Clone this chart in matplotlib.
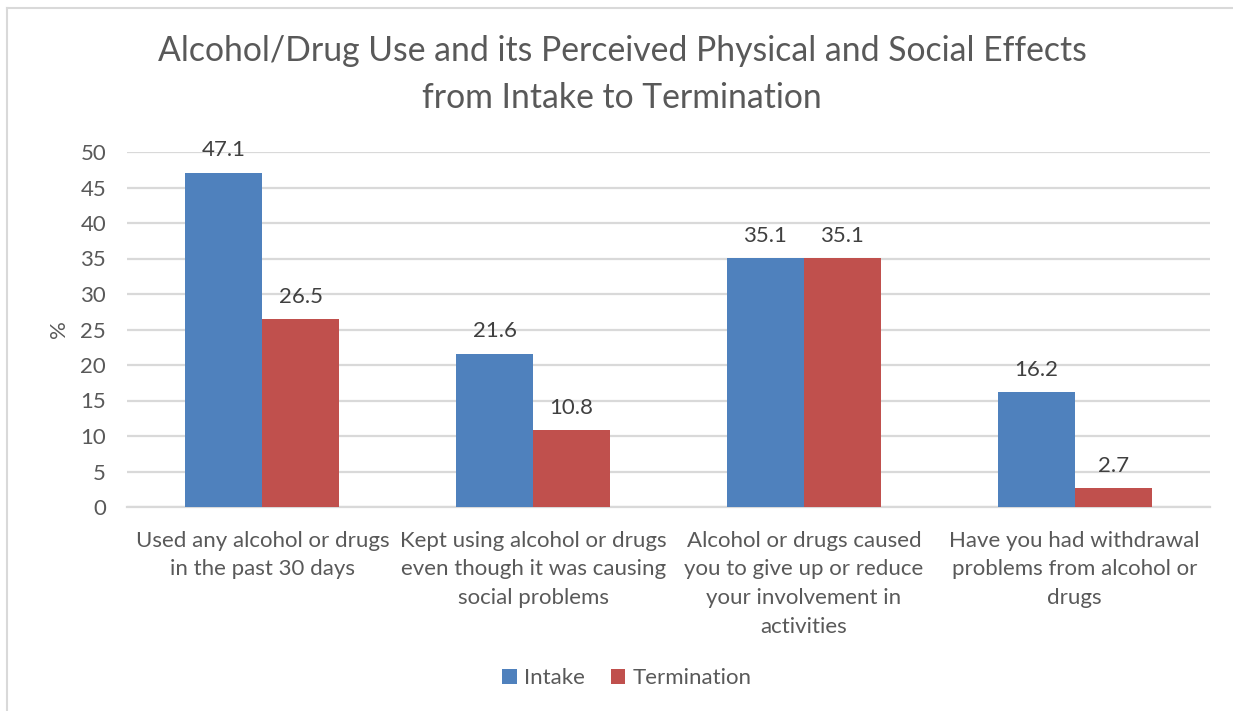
import matplotlib
matplotlib.use("Agg")
import matplotlib.pyplot as plt
from matplotlib.lines import Line2D
from matplotlib.patches import Patch
import numpy as np

plt.rcParams['font.family'] = ['Lato', 'DejaVu Sans']

categories = [
    "Used any alcohol or drugs\nin the past 30 days",
    "Kept using alcohol or drugs\neven though it was causing\nsocial problems",
    "Alcohol or drugs caused\nyou to give up or reduce\nyour involvement in\nactivities",
    "Have you had withdrawal\nproblems from alcohol or\ndrugs",
]
intake = [47.1, 21.6, 35.1, 16.2]
termination = [26.5, 10.8, 35.1, 2.7]
series_names = ["Intake", "Termination"]
y_ticks = [0, 5, 10, 15, 20, 25, 30, 35, 40, 45, 50]

title = "Alcohol/Drug Use and its Perceived Physical and Social Effects\nfrom Intake to Termination"

BLUE = "#4F81BD"
RED = "#C0504D"
TEXT = "#595959"
GRID = "#D9D9D9"
FS = 16

W, H = 1233, 711
fig = plt.figure(figsize=(W / 100, H / 100), dpi=100)
ax = fig.add_axes([127 / W, 1 - 507 / H, (1210 - 127) / W, (507 - 152) / H])

x = np.arange(len(categories))
bw = 0.284
b1 = ax.bar(x - bw / 2, intake, bw, color=BLUE, label=series_names[0], zorder=3)
b2 = ax.bar(x + bw / 2, termination, bw, color=RED, label=series_names[1], zorder=3)

for bars, vals in ((b1, intake), (b2, termination)):
    for rect, v in zip(bars, vals):
        ax.annotate(f"{v:.1f}", (rect.get_x() + rect.get_width() / 2, v),
                    xytext=(0, 16), textcoords="offset points",
                    ha="center", va="center", fontsize=FS, color="#404040", zorder=4)

ax.set_xlim(-0.5, len(categories) - 0.5)
ax.set_ylim(0, 50)
ax.set_yticks(y_ticks)
ax.yaxis.grid(True, color=GRID, linewidth=1.6, zorder=0)
ax.set_axisbelow(True)
for s in ("top", "right", "left"):
    ax.spines[s].set_visible(False)
ax.spines["bottom"].set_color(GRID)
ax.spines["bottom"].set_linewidth(1.6)
ax.tick_params(axis="both", length=0, labelsize=FS, labelcolor=TEXT)
ax.tick_params(axis="y", pad=15)
ax.tick_params(axis="x", pad=17)
ax.set_xticks(x)
ax.set_xticklabels(categories, linespacing=1.55)
ax.set_ylabel("%", fontsize=FS, color=TEXT, labelpad=8)

fig.text(622 / W, 1 - 74.5 / H, title, ha="center", va="center",
         fontsize=24.3, color=TEXT, linespacing=1.55)

handles = [Patch(facecolor=BLUE), Patch(facecolor=RED)]
fig.legend(handles, series_names, loc="center", bbox_to_anchor=(627 / W, 1 - 678 / H),
           ncol=2, frameon=False, fontsize=FS, labelcolor=TEXT,
           handlelength=0.65, handleheight=0.65, handletextpad=0.35, columnspacing=1.15)

# light frame on the left and top of the chart area
fig.add_artist(Line2D([6.5 / W, 6.5 / W], [0, 1 - 7.5 / H], color="#D9D9D9", linewidth=1.5,
                      transform=fig.transFigure))
fig.add_artist(Line2D([6.5 / W, 1], [1 - 7.5 / H, 1 - 7.5 / H], color="#D9D9D9", linewidth=1.5,
                      transform=fig.transFigure))

fig.savefig("out.png", dpi=100, facecolor="white")
